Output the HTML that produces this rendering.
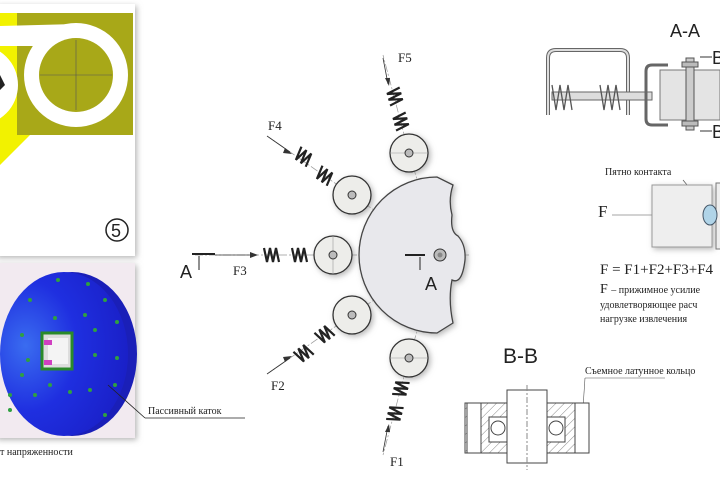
<!DOCTYPE html>
<html><head><meta charset="utf-8"><style>
html,body{margin:0;padding:0;background:#fff;width:720px;height:480px;overflow:hidden}
svg{display:block}
text{font-family:"Liberation Serif",serif;fill:#222}
.s{font-family:"Liberation Sans",sans-serif}
</style></head><body>
<svg width="720" height="480" viewBox="0 0 720 480" xmlns="http://www.w3.org/2000/svg">
<defs>
<filter id="sh" x="-20%" y="-20%" width="140%" height="140%"><feDropShadow dx="2" dy="2" stdDeviation="3" flood-color="#888" flood-opacity="0.6"/></filter>
<radialGradient id="bl" cx="0.2" cy="0.45" r="0.8"><stop offset="0" stop-color="#3a6cf0"/><stop offset="0.5" stop-color="#1f2fe0"/><stop offset="1" stop-color="#1a20c8"/></radialGradient>
<pattern id="hat" width="6" height="6" patternUnits="userSpaceOnUse" patternTransform="rotate(45)"><line x1="0" y1="0" x2="0" y2="6" stroke="#555" stroke-width="0.7"/></pattern>
<g id="sp"><path d="M-8,-7 L-5,7 L-2,-7 L1,7 L4,-7 L7,7" fill="none" stroke="#222" stroke-width="2.2"/></g>
</defs>
<!-- top left panel -->
<rect x="-5" y="4" width="140" height="252" fill="#fff" filter="url(#sh)"/>
<rect x="0" y="13" width="133" height="122" fill="#a8a818"/>
<rect x="0" y="13" width="17" height="125" fill="#f2f200"/>
<polygon points="0,135 30,135 0,165" fill="#f2f200"/>
<circle cx="-22" cy="85" r="40" fill="#fff"/>
<path d="M0,26 L76,24 L76,46 L0,46 Z" fill="#fff"/>
<circle cx="76" cy="75" r="52" fill="#fff"/>
<circle cx="76" cy="75" r="37" fill="#a8a818"/>
<line x1="76" y1="40" x2="76" y2="110" stroke="#555" stroke-width="0.6"/>
<line x1="40" y1="75" x2="112" y2="75" stroke="#555" stroke-width="0.6"/>
<path d="M0,75 L5,85 L0,90" fill="#222"/>
<circle cx="117" cy="230" r="11" fill="none" stroke="#222" stroke-width="1.5"/>
<text x="111" y="237" font-size="18" class="s">5</text>
<!-- bottom left panel -->
<rect x="-5" y="263" width="140" height="175" fill="#f2eaf0" filter="url(#sh)"/>
<ellipse cx="72" cy="354" rx="65" ry="82" fill="#1a1fb8"/>
<ellipse cx="64" cy="354" rx="64" ry="82" fill="url(#bl)"/>
<rect x="42" y="333" width="30" height="36" fill="#ddd" stroke="#2a8a2a" stroke-width="3"/>
<rect x="48" y="338" width="20" height="26" fill="#f4f4f4"/>
<rect x="44" y="340" width="8" height="5" fill="#d040c0"/><rect x="44" y="360" width="8" height="5" fill="#d040c0"/>
<g fill="#2fa040">
<circle cx="58" cy="280" r="2"/><circle cx="88" cy="284" r="2"/><circle cx="30" cy="300" r="2"/><circle cx="55" cy="318" r="2"/><circle cx="85" cy="315" r="2"/><circle cx="105" cy="300" r="2"/><circle cx="117" cy="322" r="2"/><circle cx="95" cy="330" r="2"/><circle cx="22" cy="335" r="2"/><circle cx="28" cy="360" r="2"/><circle cx="95" cy="355" r="2"/><circle cx="117" cy="358" r="2"/><circle cx="22" cy="375" r="2"/><circle cx="50" cy="385" r="2"/><circle cx="70" cy="392" r="2"/><circle cx="90" cy="390" r="2"/><circle cx="115" cy="385" r="2"/><circle cx="10" cy="395" r="2"/><circle cx="35" cy="395" r="2"/><circle cx="105" cy="415" r="2"/><circle cx="10" cy="410" r="2"/>
</g>
<line x1="108" y1="385" x2="145" y2="418" stroke="#222" stroke-width="0.8"/>
<text x="148" y="414" font-size="10">Пассивный каток</text>
<line x1="145" y1="418" x2="245" y2="418" stroke="#222" stroke-width="0.7"/>
<text x="0" y="455" font-size="10">т напряженности</text>
<!-- center mechanism -->
<g stroke="#999" stroke-width="0.7" stroke-dasharray="8,2,2,2" fill="none">
<line x1="195" y1="255" x2="470" y2="255"/>
<line x1="440" y1="255" x2="352" y2="195"/><line x1="440" y1="255" x2="352" y2="315"/>
<line x1="440" y1="255" x2="409" y2="153"/><line x1="440" y1="255" x2="409" y2="358"/>
<line x1="409" y1="153" x2="383" y2="55"/><line x1="409" y1="358" x2="383" y2="455"/>
<line x1="352" y1="195" x2="270" y2="138"/><line x1="352" y1="315" x2="270" y2="372"/>
</g>
<path d="M437,177 A78,78 0 0 0 437,333 L453,323 Q448,300 452,280 Q462,285 465,260 Q466,245 458,236 Q450,232 452,215 Q448,200 453,185 Z" fill="#e8e8ec" stroke="#444" stroke-width="1.3" filter="url(#sh)"/>
<circle cx="440" cy="255" r="6" fill="#bbb" stroke="#333"/><circle cx="440" cy="255" r="2.5" fill="#888"/>
<g fill="#ededea" stroke="#333" stroke-width="1.3" filter="url(#sh)">
<circle cx="333" cy="255" r="19"/><circle cx="352" cy="195" r="19"/><circle cx="352" cy="315" r="19"/><circle cx="409" cy="153" r="19"/><circle cx="409" cy="358" r="19"/>
</g>
<g stroke="#999" stroke-width="0.6">
<line x1="333" y1="236" x2="333" y2="274"/><line x1="390" y1="153" x2="428" y2="153"/><line x1="390" y1="358" x2="428" y2="358"/>
</g>
<g fill="#bbb" stroke="#333">
<circle cx="333" cy="255" r="4"/><circle cx="352" cy="195" r="4"/><circle cx="352" cy="315" r="4"/><circle cx="409" cy="153" r="4"/><circle cx="409" cy="358" r="4"/>
</g>
<use href="#sp" transform="translate(272,255)"/><use href="#sp" transform="translate(300,255)"/>
<use href="#sp" transform="translate(304,157) rotate(35)"/><use href="#sp" transform="translate(325,176) rotate(35)"/>
<use href="#sp" transform="translate(304,353) rotate(-35)"/><use href="#sp" transform="translate(325,334) rotate(-35)"/>
<use href="#sp" transform="translate(395,97) rotate(75)"/><use href="#sp" transform="translate(401,122) rotate(75)"/>
<use href="#sp" transform="translate(395,413) rotate(-75)"/><use href="#sp" transform="translate(401,388) rotate(-75)"/>
<g stroke="#333" stroke-width="0.8">
<line x1="215" y1="255" x2="255" y2="255"/><line x1="267" y1="136" x2="290" y2="152"/><line x1="267" y1="374" x2="290" y2="358"/><line x1="383" y1="58" x2="388" y2="84"/><line x1="383" y1="452" x2="388" y2="426"/>
</g>
<g fill="#333">
<polygon points="258,255 250,252 250,258"/><polygon points="292,154 285,148 283,153"/><polygon points="292,356 283,357 285,362"/><polygon points="389,86 385,78 390,78"/><polygon points="389,424 385,432 390,432"/>
</g>
<text x="398" y="62" font-size="13">F5</text>
<text x="268" y="130" font-size="13">F4</text>
<text x="233" y="275" font-size="13">F3</text>
<text x="271" y="390" font-size="13">F2</text>
<text x="390" y="466" font-size="13">F1</text>
<g stroke="#222" stroke-width="2"><line x1="192" y1="254" x2="215" y2="254"/><line x1="405" y1="255" x2="425" y2="255"/></g>
<g stroke="#222" stroke-width="1"><line x1="199" y1="256" x2="199" y2="270"/><line x1="420" y1="257" x2="420" y2="270"/></g>
<text x="180" y="278" font-size="18" class="s">A</text>
<text x="425" y="290" font-size="18" class="s">A</text>
<!-- A-A section -->
<text x="670" y="37" font-size="18" class="s">A-A</text>
<path d="M548,115 L548,58 Q548,50 556,50 L620,50 Q628,50 628,58 L628,115" fill="none" stroke="#666" stroke-width="4"/>
<path d="M548,115 L548,58 Q548,50 556,50 L620,50 Q628,50 628,58 L628,115" fill="none" stroke="#ddd" stroke-width="2"/>
<rect x="552" y="92" width="100" height="8" fill="#ddd" stroke="#666"/>
<g fill="none" stroke="#555" stroke-width="1.3">
<path d="M552,85 l4,25 l4,-25 l4,25 l4,-25 l4,25"/><path d="M600,85 l4,25 l4,-25 l4,25 l4,-25 l4,25"/>
</g>
<path d="M668,65 L652,65 Q646,65 646,71 L646,119 Q646,125 652,125 L668,125" fill="none" stroke="#666" stroke-width="3"/>
<rect x="660" y="70" width="60" height="50" fill="#e4e4e4" stroke="#777"/>
<rect x="686" y="58" width="8" height="72" fill="#ccc" stroke="#555"/>
<rect x="682" y="62" width="16" height="5" fill="#bbb" stroke="#555"/><rect x="682" y="121" width="16" height="5" fill="#bbb" stroke="#555"/>
<text x="712" y="64" font-size="18" class="s">B</text>
<text x="712" y="138" font-size="18" class="s">B</text>
<line x1="700" y1="57" x2="712" y2="57" stroke="#333"/><line x1="700" y1="131" x2="712" y2="131" stroke="#333"/>
<!-- contact spot -->
<text x="605" y="175" font-size="10">Пятно контакта</text>
<line x1="683" y1="180" x2="705" y2="207" stroke="#555" stroke-width="0.7"/>
<rect x="652" y="185" width="60" height="62" fill="#eeeeee" stroke="#999" filter="url(#sh)"/>
<rect x="716" y="183" width="6" height="66" fill="#eee" stroke="#777"/>
<ellipse cx="710" cy="215" rx="7" ry="10" fill="#b0d4e8" stroke="#456"/>
<text x="598" y="217" font-size="17">F</text>
<line x1="612" y1="215" x2="652" y2="215" stroke="#888" stroke-width="0.7"/>
<text x="600" y="274" font-size="15">F = F1+F2+F3+F4</text>
<text x="600" y="293" font-size="14">F <tspan font-size="10">– прижимное усилие</tspan></text>
<text x="600" y="308" font-size="10">удовлетворяющее расч</text>
<text x="600" y="322" font-size="10">нагрузке извлечения</text>
<!-- B-B -->
<text x="503" y="363" font-size="21" class="s">B-B</text>
<text x="585" y="374" font-size="10">Съемное латунное кольцо</text>
<line x1="585" y1="378" x2="665" y2="378" stroke="#555" stroke-width="0.6"/>
<line x1="585" y1="378" x2="583" y2="408" stroke="#555" stroke-width="0.6"/>
<g stroke="#444" stroke-width="1">
<rect x="465" y="403" width="43" height="50" fill="url(#hat)"/>
<rect x="546" y="403" width="43" height="50" fill="url(#hat)"/>
<rect x="467" y="403" width="14" height="50" fill="#fff"/>
<rect x="575" y="403" width="14" height="50" fill="#fff"/>
<rect x="489" y="417" width="19" height="25" fill="#fff"/>
<rect x="546" y="417" width="19" height="25" fill="#fff"/>
<rect x="507" y="390" width="40" height="73" fill="#fff"/>
<circle cx="498" cy="428" r="7" fill="#fff"/><circle cx="556" cy="428" r="7" fill="#fff"/>
</g>
<line x1="527" y1="385" x2="527" y2="470" stroke="#888" stroke-dasharray="6,2,2,2"/>
</svg>
</body></html>
